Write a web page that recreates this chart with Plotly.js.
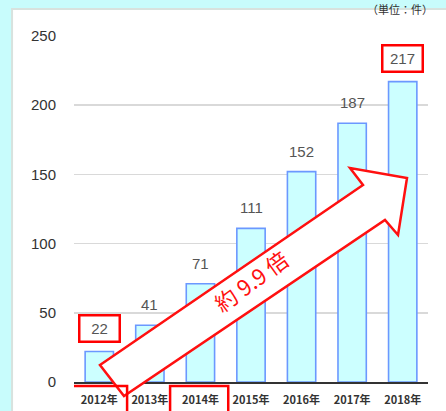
<!DOCTYPE html>
<html>
<head>
<meta charset="utf-8">
<script src="https://cdn.plot.ly/plotly-3.0.1.min.js"></script>
<style>html,body{margin:0;padding:0;background:#c8fcfc;}</style>
</head>
<body>
<div id="chart" style="width:446px;height:411px;"></div>
<script>
const years = ['2012年','2013年','2014年','2015年','2016年','2017年','2018年'];
const counts = [22, 41, 71, 111, 152, 187, 217];
const yTicks = [0, 50, 100, 150, 200, 250];
const boxedValueIdx = [0, 6];
const boxedYearIdx = [0, 2];
const arrowLabel = '約 9.9 倍';
const unitLabel = '（単位：件）';

const trace = {
  type: 'bar',
  x: years,
  y: counts,
  marker: {color: '#ccffff', line: {color: '#6b98ff', width: 1.6}},
  hoverinfo: 'skip'
};

const annotations = counts.map((v, i) => {
  const boxed = boxedValueIdx.includes(i);
  return {
    x: years[i], y: v, xref: 'x', yref: 'y',
    text: String(v), showarrow: false,
    yanchor: 'bottom', yshift: boxed ? 9 : 12,
    font: {family: 'Liberation Sans, Arial, sans-serif', size: 15, color: '#555'},
    bordercolor: boxed ? '#ff0000' : 'rgba(0,0,0,0)',
    borderwidth: boxed ? 2.5 : 0,
    borderpad: boxed ? 1 : 0,
    width: boxed ? 36 : null,
    height: boxed ? 22 : null
  };
});
annotations.push({
  xref: 'paper', yref: 'paper', x: 0.92, y: 1.104, yanchor: 'top', xanchor: 'center',
  text: unitLabel, showarrow: false, borderpad: 0,
  font: {family: 'Noto Sans CJK JP, sans-serif', size: 11, color: '#333'}
});

const shapes = [
  {type: 'rect', xref: 'paper', yref: 'paper', x0: -0.175, x1: 1.07, y0: -0.1, y1: 1.078,
   fillcolor: '#ffffff', line: {color: '#d8e2de', width: 2}, layer: 'below'},
  {type: 'path', xref: 'paper', yref: 'paper',
   path: 'M 0.0734 0.0491 L 0.8164 0.5694 L 0.7797 0.6185 L 0.9407 0.5896 L 0.9153 0.4249 L 0.8785 0.4682 L 0.1412 -0.0405 Z',
   fillcolor: '#ffffff', line: {color: '#ff1010', width: 2.5}, layer: 'above'},
  {type: 'line', xref: 'paper', yref: 'paper', x0: 0.3927, y0: 0.2058, x1: 0.6186, y1: 0.3630,
   line: {color: 'rgba(0,0,0,0)', width: 1}, layer: 'above',
   label: {text: arrowLabel, textposition: 'middle', textangle: -36, xanchor: 'center', yanchor: 'middle',
           font: {family: 'Noto Sans CJK JP, sans-serif', size: 22, color: '#ff1010'}}}
];
boxedYearIdx.forEach(i => {
  shapes.push({type: 'rect', xref: 'x', yref: 'paper', x0: i - 0.6, x1: i + 0.55, y0: -0.11, y1: -0.0116,
    line: {color: '#ff0000', width: 2.5}, fillcolor: 'rgba(0,0,0,0)', layer: 'above'});
});

const layout = {
  width: 446, height: 411,
  margin: {l: 74, r: 18, t: 36, b: 29},
  paper_bgcolor: '#c8fcfc',
  plot_bgcolor: '#ffffff',
  showlegend: false,
  bargap: 0.44,
  xaxis: {
    type: 'category', range: [-0.5, 6.5], fixedrange: true,
    showgrid: false, zeroline: false,
    showline: true, linecolor: '#333', linewidth: 1.5,
    ticks: '', ticklabelstandoff: 7,
    tickfont: {family: 'Noto Sans CJK JP, sans-serif', size: 11, color: '#333', weight: 'bold'}
  },
  yaxis: {
    range: [0, 250], tickvals: yTicks, fixedrange: true,
    showgrid: true, gridcolor: '#d9d9d9', gridwidth: 1.5,
    zeroline: false, showline: false, ticks: '', ticklabelstandoff: 17,
    tickfont: {family: 'Liberation Sans, Arial, sans-serif', size: 15, color: '#333'}
  },
  annotations: annotations,
  shapes: shapes
};

Plotly.newPlot('chart', [trace], layout, {displayModeBar: false, staticPlot: true});
</script>
</body>
</html>
